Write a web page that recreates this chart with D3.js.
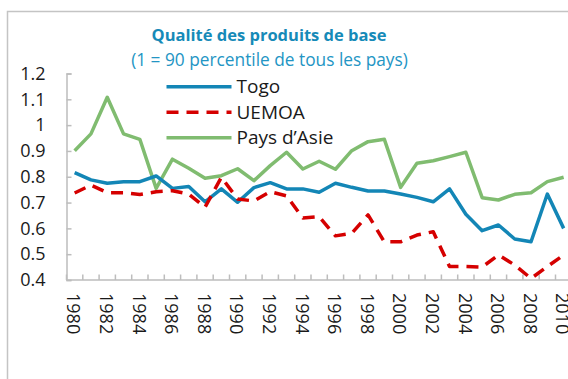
<!DOCTYPE html>
<html>
<head>
<meta charset="utf-8">
<script src="https://cdn.jsdelivr.net/npm/d3@7"></script>
<style>
  html, body { margin: 0; padding: 0; background: #fff; }
  svg { display: block; }
  text { font-family: "Open Sans", "Noto Sans", sans-serif; }
</style>
</head>
<body>
<svg id="chart" width="568" height="379"></svg>
<script>
// Years on the category axis
const years = d3.range(1980, 2011);
const tickLabels = years.filter(y => y % 2 === 0).map(String);

// Quality indices (1 = 90th percentile of all countries)
const togo = [0.816, 0.788, 0.775, 0.781, 0.781, 0.803, 0.755, 0.762, 0.703, 0.753,
              0.701, 0.758, 0.777, 0.753, 0.753, 0.740, 0.775, 0.759, 0.745, 0.745,
              0.733, 0.720, 0.703, 0.753, 0.655, 0.591, 0.613, 0.559, 0.548, 0.733,
              0.600];
const uemoa = [0.737, 0.768, 0.738, 0.738, 0.731, 0.742, 0.746, 0.733, 0.682, 0.798,
               0.714, 0.706, 0.742, 0.726, 0.640, 0.645, 0.571, 0.581, 0.652, 0.548,
               0.548, 0.574, 0.587, 0.452, 0.452, 0.450, 0.497, 0.458, 0.406, 0.452,
               0.497];
const asie = [0.901, 0.966, 1.108, 0.966, 0.945, 0.755, 0.868, 0.833, 0.794, 0.804,
              0.831, 0.785, 0.843, 0.895, 0.830, 0.860, 0.829, 0.901, 0.936, 0.945,
              0.759, 0.852, 0.862, 0.878, 0.895, 0.719, 0.710, 0.732, 0.738, 0.781,
              0.798];
const yTicks = [0.4, 0.5, 0.6, 0.7, 0.8, 0.9, 1.0, 1.1, 1.2];

const seriesNames = ["Togo", "UEMOA", "Pays d\u2019Asie"];
const seriesValues = [togo, uemoa, asie];
const seriesColors = ["#1386b6", "#d50000", "#80bc70"];
const seriesDash = [null, "12,8", null];

const svg = d3.select("#chart");

// Outer frame of the figure
svg.append("rect")
  .attr("x", 7.5).attr("y", 11.5)
  .attr("width", 700).attr("height", 500)
  .attr("fill", "none").attr("stroke", "#c4c4c4").attr("stroke-width", 1.5);

// Title
svg.append("text")
  .attr("x", 269).attr("y", 41)
  .attr("text-anchor", "middle")
  .attr("font-size", 16.5).attr("font-weight", "bold")
  .attr("fill", "#168ab8")
  .text("Qualité des produits de base");
svg.append("text")
  .attr("x", 269.5).attr("y", 66)
  .attr("text-anchor", "middle")
  .attr("font-size", 17.3)
  .attr("fill", "#2395c4")
  .text("(1 = 90 percentile de tous les pays)");

const x = d3.scaleBand().domain(years).range([66.5, 571.8]).padding(0);
const y = d3.scaleLinear().domain([0.4, 1.2]).range([280, 73.5]);
const cx = d => x(d) + x.bandwidth() / 2;

// Y axis
const yAxis = svg.append("g")
  .attr("transform", "translate(66.5,0)")
  .call(d3.axisLeft(y).tickValues(yTicks).tickSize(-5).tickPadding(21)
    .tickFormat(d => d3.format("")(+d.toFixed(1))));
yAxis.select(".domain").attr("stroke", "#bdbdbd").attr("stroke-width", 1.5);
yAxis.selectAll(".tick line").attr("stroke", "#bdbdbd").attr("stroke-width", 1.5);
yAxis.selectAll(".tick text")
  .attr("font-size", 18).attr("fill", "#1a1a1a")
  .attr("font-family", "\"Open Sans\", sans-serif");

// X axis: boundary ticks between categories, labels every two years
const bounds = years.map(v => x(v)).concat([x(years[years.length - 1]) + x.bandwidth()]);
const xg = svg.append("g");
xg.append("line")
  .attr("x1", 66.5).attr("x2", 571.8).attr("y1", 280).attr("y2", 280)
  .attr("stroke", "#bdbdbd").attr("stroke-width", 1.5);
xg.selectAll("line.tk").data(bounds).join("line")
  .attr("class", "tk")
  .attr("x1", d => d).attr("x2", d => d)
  .attr("y1", 280).attr("y2", 274.5)
  .attr("stroke", "#bdbdbd").attr("stroke-width", 1.5);
xg.selectAll("text").data(tickLabels).join("text")
  .attr("transform", d => `translate(${cx(+d) - 1},${293}) rotate(90)`)
  .attr("dy", "0.35em")
  .attr("font-size", 18).attr("fill", "#1a1a1a")
  .text(d => d);

// Series lines
const line = d3.line().x((d, i) => cx(years[i])).y(d => y(d));
[2, 0, 1].forEach(k => {
  svg.append("path")
    .datum(seriesValues[k])
    .attr("d", line)
    .attr("fill", "none")
    .attr("stroke", seriesColors[k])
    .attr("stroke-width", 3.5)
    .attr("stroke-linejoin", "round")
    .attr("stroke-dasharray", seriesDash[k]);
});

// Legend
const lg = svg.append("g");
seriesNames.forEach((name, k) => {
  const ly = 86.7 + k * 25.5;
  lg.append("line")
    .attr("x1", 166.5).attr("x2", 231.5).attr("y1", ly).attr("y2", ly)
    .attr("stroke", seriesColors[k]).attr("stroke-width", 3.5)
    .attr("stroke-dasharray", seriesDash[k]);
  lg.append("text")
    .attr("x", 236.5).attr("y", ly).attr("dy", "0.35em")
    .attr("font-size", 19).attr("fill", "#1a1a1a")
    .text(name);
});
</script>
</body>
</html>
